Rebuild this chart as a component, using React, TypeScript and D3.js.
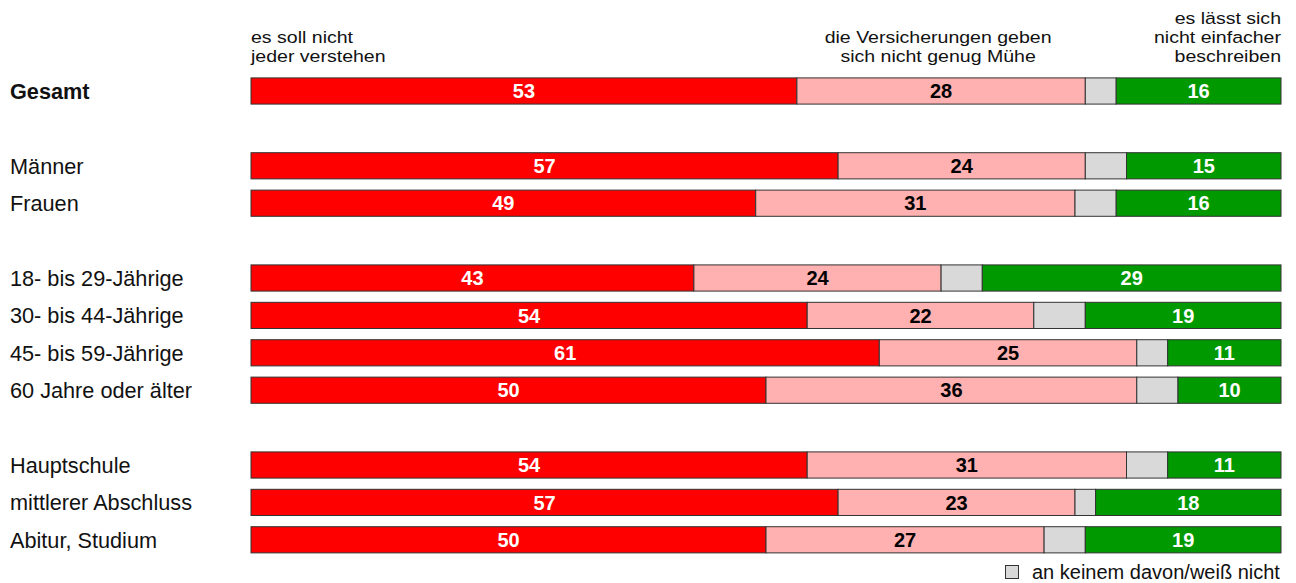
import React, { useEffect, useRef } from 'react';
import * as d3 from 'd3';

// Zeilen (leere Strings = Abstand zwischen Gruppen)
const rows = [
  'Gesamt', '',
  'Männer', 'Frauen', '',
  '18- bis 29-Jährige', '30- bis 44-Jährige', '45- bis 59-Jährige', '60 Jahre oder älter', '',
  'Hauptschule', 'mittlerer Abschluss', 'Abitur, Studium',
];
const categories = ['Gesamt', 'Männer', 'Frauen', '18- bis 29-Jährige', '30- bis 44-Jährige', '45- bis 59-Jährige', '60 Jahre oder älter', 'Hauptschule', 'mittlerer Abschluss', 'Abitur, Studium'];
const nichtVerstehen = [53, 57, 49, 43, 54, 61, 50, 54, 57, 50];
const keineMuehe = [28, 24, 31, 24, 22, 25, 36, 31, 23, 27];
const weissNicht = [3, 4, 4, 4, 5, 3, 4, 4, 2, 4];
const nichtEinfacher = [16, 15, 16, 29, 19, 11, 10, 11, 18, 19];

const series = [
  { key: 'a', values: nichtVerstehen, color: '#ff0000', text: '#ffffff', label: true },
  { key: 'b', values: keineMuehe, color: '#ffb0b0', text: '#000000', label: true },
  { key: 'c', values: weissNicht, color: '#d9d9d9', text: '#000000', label: false },
  { key: 'd', values: nichtEinfacher, color: '#009900', text: '#ffffff', label: true },
];

const App = () => {
  const ref = useRef<SVGSVGElement>(null);

  useEffect(() => {
    const width = 1296;
    const height = 583;
    const svg = d3.select(ref.current);
    svg.selectAll('*').remove();
    svg.attr('width', width).attr('height', height).style('font-family', 'Liberation Sans, Arial, sans-serif');

    const x = d3.scaleLinear().domain([0, 100]).range([251, 1281]);
    const y = d3.scaleBand<number>().domain(d3.range(rows.length)).range([72.3, 558.5]).paddingInner(0.3).paddingOuter(0.15);

    const rowIndex = (c: string) => rows.indexOf(c);

    // Beschriftung links
    svg.append('g')
      .selectAll('text')
      .data(categories)
      .enter()
      .append('text')
      .attr('x', 10)
      .attr('y', d => (y(rowIndex(d)) as number) + y.bandwidth() / 2)
      .attr('dy', '0.36em')
      .style('font-size', '21.7px')
      .style('font-weight', d => (d === 'Gesamt' ? 'bold' : 'normal'))
      .attr('fill', '#111')
      .text(d => d);

    // gestapelte Balken
    categories.forEach((c, i) => {
      let start = 0;
      const yy = y(rowIndex(c)) as number;
      series.forEach(s => {
        const v = s.values[i];
        svg.append('rect')
          .attr('x', x(start))
          .attr('y', yy)
          .attr('width', x(start + v) - x(start))
          .attr('height', y.bandwidth())
          .attr('fill', s.color)
          .attr('stroke', '#333')
          .attr('stroke-width', 1);
        if (s.label) {
          svg.append('text')
            .attr('x', x(start + v / 2))
            .attr('y', yy + y.bandwidth() / 2)
            .attr('dy', '0.36em')
            .attr('text-anchor', 'middle')
            .style('font-size', '20px')
            .style('font-weight', 'bold')
            .attr('fill', s.text)
            .text(v);
        }
        start += v;
      });
    });

    // Kopfzeilen (leicht in die Breite gezogen wie im Original)
    const header = (lines: string[], xPos: number, anchor: string, lastBaseline: number) => {
      lines.forEach((l, k) => {
        const yPos = lastBaseline - (lines.length - 1 - k) * 19;
        svg.append('text')
          .attr('transform', `translate(${xPos},${yPos}) scale(1.15,1)`)
          .attr('text-anchor', anchor)
          .style('font-size', '17px')
          .attr('fill', '#111')
          .text(l);
      });
    };
    header(['es soll nicht', 'jeder verstehen'], x(0), 'start', 62);
    header(['die Versicherungen geben', 'sich nicht genug Mühe'], x(53 + 28 / 2) - 3, 'middle', 62);
    header(['es lässt sich', 'nicht einfacher', 'beschreiben'], x(100), 'end', 62);

    // Legende
    svg.append('rect')
      .attr('x', 1005.5)
      .attr('y', 565.5)
      .attr('width', 13)
      .attr('height', 13)
      .attr('fill', '#d9d9d9')
      .attr('stroke', '#333');
    svg.append('text')
      .attr('x', 1032)
      .attr('y', 579)
      .style('font-size', '20px')
      .attr('fill', '#111')
      .text('an keinem davon/weiß nicht');
  }, []);

  return <svg ref={ref} style={{ display: 'block', position: 'absolute', left: 0, top: 0 }} />;
};

export default App;
